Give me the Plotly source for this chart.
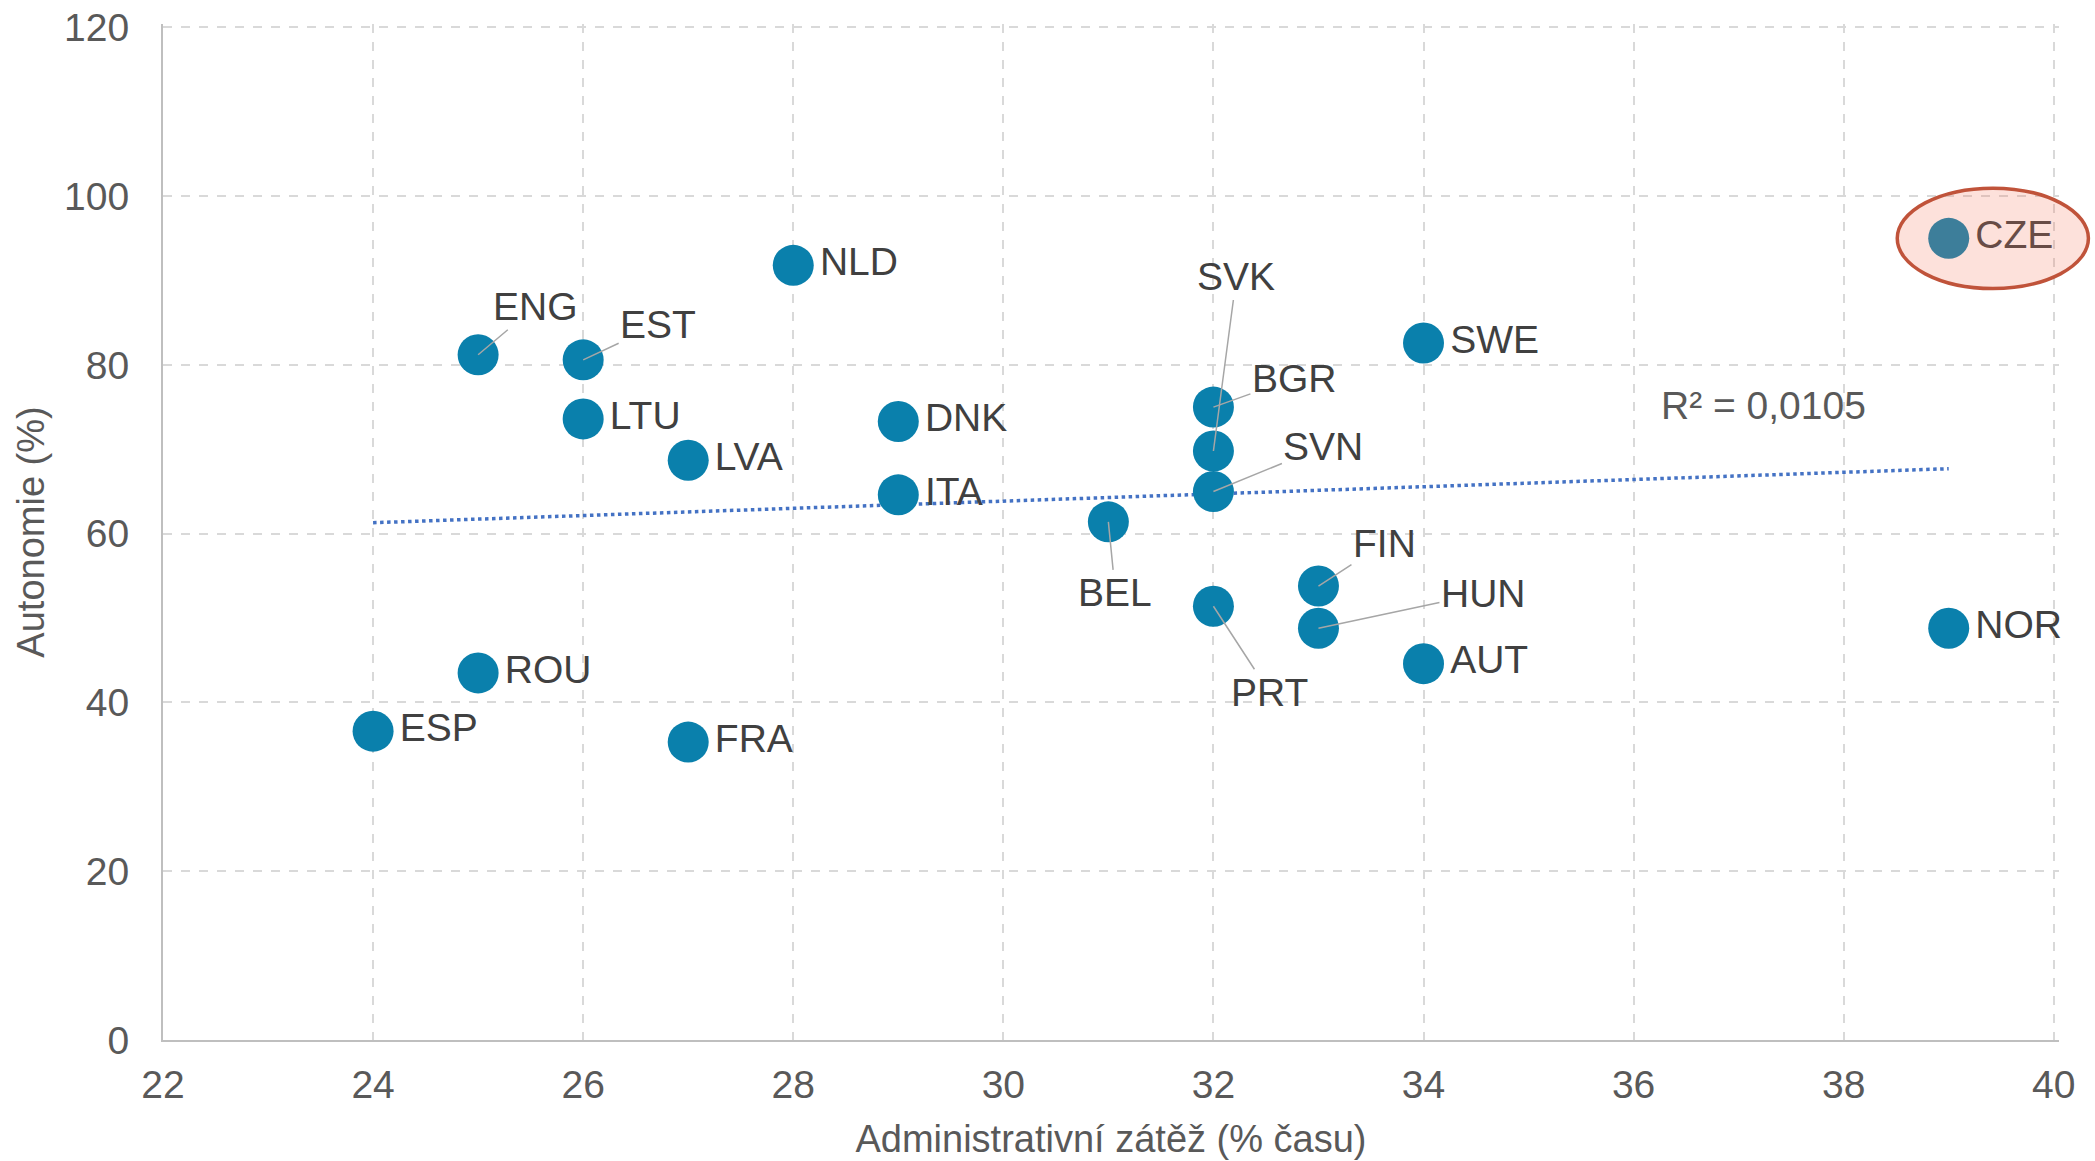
import plotly.graph_objects as go

# ---- data ----
countries = ["ENG", "EST", "NLD", "LTU", "LVA", "DNK", "ITA", "BEL", "SVK", "BGR", "SVN",
             "PRT", "FIN", "HUN", "AUT", "SWE", "NOR", "CZE", "ROU", "ESP", "FRA"]
admin_burden = [25, 26, 28, 26, 27, 29, 29, 31, 32, 32, 32,
                32, 33, 33, 34, 34, 39, 39, 25, 24, 27]
autonomy = [81.2, 80.6, 91.8, 73.6, 68.7, 73.3, 64.6, 61.4, 69.8, 75.0, 65.0,
            51.4, 53.8, 48.8, 44.6, 82.6, 48.8, 95.0, 43.5, 36.6, 35.3]

# countries whose labels are placed with a leader line (offsets in px: label centre vs point)
leader_labels = {"ENG": (57, -48), "EST": (75, -35), "SVK": (23, -174), "BGR": (81, -29),
                 "SVN": (110, -45), "BEL": (7, 71), "PRT": (56, 86), "FIN": (66, -43),
                 "HUN": (165, -35)}

trend_x = [24, 39]
trend_y = [61.3, 67.7]
r2_text = "R² = 0,0105"
r2_pos = (37.24, 75.2)

highlight = "CZE"
highlight_rx, highlight_ry = 0.91, 5.95   # ellipse half-axes in data units
highlight_dx = 0.42                         # ellipse centre shift to the right of the point

x_range = [22, 40.05]
y_range = [0, 120.4]
x_title = "Administrativní zátěž (% času)"
y_title = "Autonomie (%)"

FONT = "Liberation Sans"
MARK = "#0A80AC"
TXT = "#404040"
AX = "#595959"
FS = 39

fig = go.Figure()

fig.add_trace(go.Scatter(x=trend_x, y=trend_y, mode="lines",
                         line=dict(color="#4472C4", width=3.5, dash="dot"),
                         hoverinfo="skip", showlegend=False))

text_right = [("" if c in leader_labels else c) for c in countries]
fig.add_trace(go.Scatter(
    x=admin_burden, y=autonomy, mode="markers+text",
    text=text_right, textposition="middle right",
    textfont=dict(family=FONT, size=FS, color=TXT),
    marker=dict(size=41, color=MARK, line=dict(width=0)),
    showlegend=False, cliponaxis=False))

for c, x, y in zip(countries, admin_burden, autonomy):
    if c in leader_labels:
        ax, ay = leader_labels[c]
        fig.add_annotation(x=x, y=y, text=c, showarrow=True, arrowhead=0,
                           arrowwidth=1.5, arrowcolor="#A6A6A6", ax=ax, ay=ay,
                           standoff=0, startstandoff=0,
                           font=dict(family=FONT, size=FS, color=TXT))

fig.add_annotation(x=r2_pos[0], y=r2_pos[1], text=r2_text, showarrow=False,
                   font=dict(family=FONT, size=FS, color=AX))

# highlight ellipse around CZE (paper coordinates derived from the axis ranges)
i = countries.index(highlight)
cx = admin_burden[i] + highlight_dx
cy = autonomy[i]
def px(v):
    return (v - x_range[0]) / (x_range[1] - x_range[0])
def py(v):
    return (v - y_range[0]) / (y_range[1] - y_range[0])
fig.add_shape(type="circle", xref="paper", yref="paper",
              x0=px(cx - highlight_rx), x1=px(cx + highlight_rx),
              y0=py(cy - highlight_ry), y1=py(cy + highlight_ry),
              line=dict(color="#C0533A", width=3.5),
              fillcolor="rgba(245,118,90,0.22)", layer="above")

fig.update_xaxes(range=x_range, dtick=2, tick0=22, showgrid=True, gridcolor="#D9D9D9",
                 griddash="dash", gridwidth=1.5, showline=True, linecolor="#BFBFBF",
                 linewidth=2, zeroline=False, ticks="", ticklabelstandoff=9,
                 automargin=False, ticklabeloverflow="allow",
                 tickfont=dict(family=FONT, size=FS, color=AX),
                 title=dict(text=x_title, font=dict(family=FONT, size=38, color=AX), standoff=21))
fig.update_yaxes(range=y_range, dtick=20, showgrid=True, gridcolor="#D9D9D9",
                 griddash="dash", gridwidth=1.5, showline=True, linecolor="#BFBFBF",
                 linewidth=2, zeroline=False, ticks="", ticklabelstandoff=24,
                 automargin=False, ticklabeloverflow="allow",
                 tickfont=dict(family=FONT, size=FS, color=AX),
                 title=dict(text=y_title, font=dict(family=FONT, size=38, color=AX), standoff=8))

fig.update_layout(width=2095, height=1161, margin=dict(l=163, r=35.7, t=23.6, b=121),
                  plot_bgcolor="white", paper_bgcolor="white", showlegend=False)

fig.write_html("out.html", config={"displayModeBar": False},
               post_script="document.body.style.margin='0';")
